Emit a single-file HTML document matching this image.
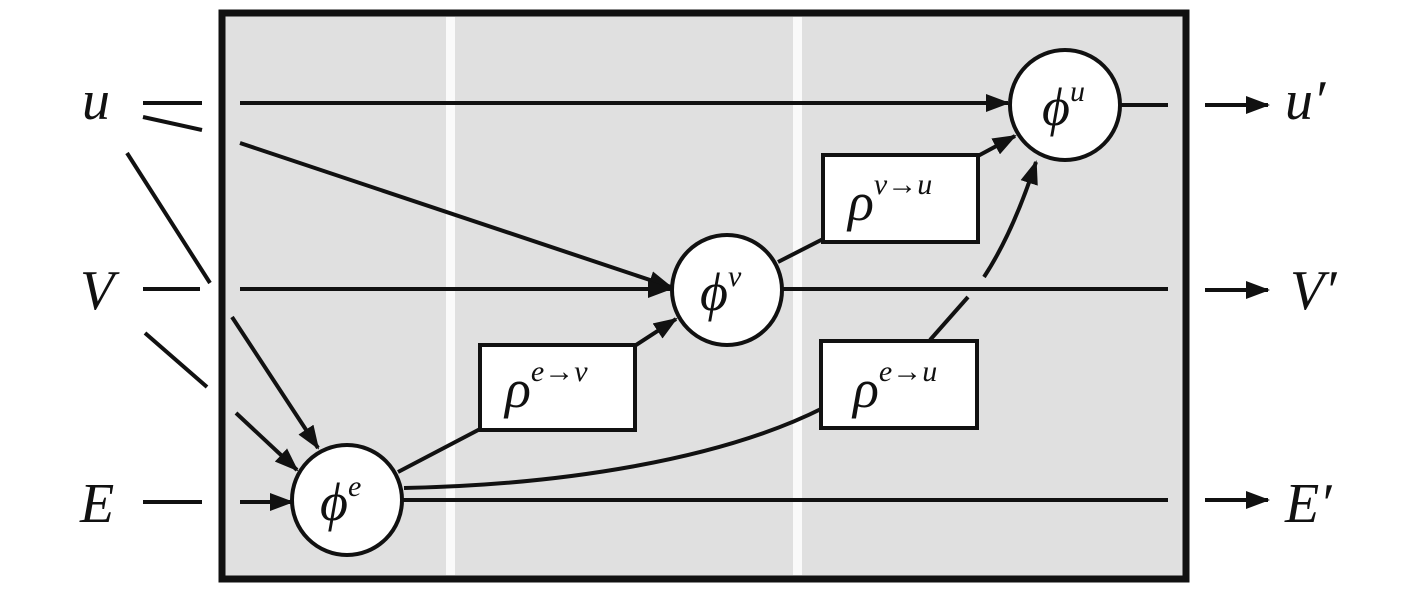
<!DOCTYPE html>
<html><head><style>
html,body{margin:0;padding:0;background:#fff;}
svg text{font-family:"Liberation Serif",serif;font-style:italic;fill:#111;}
</style></head><body>
<svg width="1417" height="595" viewBox="0 0 1417 595" xmlns="http://www.w3.org/2000/svg">
<defs>
<marker id="b" markerWidth="24" markerHeight="18" refX="22" refY="9" orient="auto" markerUnits="userSpaceOnUse" viewBox="0 0 24 18">
<path d="M0,0 L24,9 L0,18 z" fill="#111"/>
</marker>
</defs>
<rect x="222" y="13" width="964" height="566" fill="#e0e0e0" stroke="#111" stroke-width="7"/>
<rect x="446" y="17" width="9" height="558" fill="#fafafa"/>
<rect x="793" y="17" width="9" height="558" fill="#fafafa"/>
<g stroke="#111" stroke-width="4" fill="none" stroke-linecap="butt">
<line x1="143" y1="103" x2="202" y2="103"/>
<line x1="143" y1="117" x2="202" y2="130"/>
<line x1="127" y1="153" x2="210" y2="283"/>
<line x1="143" y1="289" x2="200" y2="289"/>
<line x1="145" y1="333" x2="207" y2="387"/>
<line x1="143" y1="502" x2="202" y2="502"/>
<line x1="240" y1="103" x2="1008" y2="103" marker-end="url(#b)"/>
<line x1="240" y1="143" x2="671" y2="287" marker-end="url(#b)"/>
<line x1="240" y1="289" x2="670" y2="289" marker-end="url(#b)"/>
<line x1="232" y1="317" x2="318" y2="448" marker-end="url(#b)"/>
<line x1="236" y1="413" x2="297" y2="470" marker-end="url(#b)"/>
<line x1="240" y1="502" x2="292" y2="502" marker-end="url(#b)"/>
<line x1="398" y1="472" x2="482" y2="428"/>
<line x1="633" y1="347" x2="676" y2="319" marker-end="url(#b)"/>
<line x1="778" y1="262" x2="825" y2="238"/>
<line x1="976" y1="157" x2="1015" y2="136" marker-end="url(#b)"/>
<line x1="782" y1="289" x2="1168" y2="289"/>
<line x1="402" y1="500" x2="1168" y2="500"/>
<line x1="1120" y1="105" x2="1168" y2="105"/>
<path d="M404,488 C560,485 720,460 823,408"/>
<line x1="930" y1="340" x2="968" y2="297"/>
<path d="M984,277 C1005,245 1022,205 1036,162" marker-end="url(#b)"/>
<line x1="1205" y1="105" x2="1268" y2="105" marker-end="url(#b)"/>
<line x1="1205" y1="290" x2="1268" y2="290" marker-end="url(#b)"/>
<line x1="1205" y1="500" x2="1268" y2="500" marker-end="url(#b)"/>
</g>
<g stroke="#111" stroke-width="4" fill="#fff">
<circle cx="347" cy="500" r="55"/>
<circle cx="727" cy="290" r="55"/>
<circle cx="1065" cy="105" r="55"/>
<rect x="480" y="345" width="155" height="85"/>
<rect x="823" y="155" width="155" height="87"/>
<rect x="821" y="341" width="156" height="87"/>
</g>
<g font-size="56">
<text x="82" y="119">u</text>
<text x="80" y="309">V</text>
<text x="80" y="522">E</text>
<text x="1285" y="119">u′</text>
<text x="1290" y="309">V′</text>
<text x="1285" y="522">E′</text>
</g>
<g font-size="54">
<text x="320" y="520">ϕ<tspan font-size="30" dy="-24">e</tspan></text>
<text x="700" y="310">ϕ<tspan font-size="30" dy="-24">v</tspan></text>
<text x="1042" y="125">ϕ<tspan font-size="30" dy="-24">u</tspan></text>
<text x="505" y="407">ρ<tspan font-size="30" dy="-26">e→v</tspan></text>
<text x="848" y="220">ρ<tspan font-size="30" dy="-26">v→u</tspan></text>
<text x="853" y="407">ρ<tspan font-size="30" dy="-26">e→u</tspan></text>
</g>
</svg>
</body></html>
